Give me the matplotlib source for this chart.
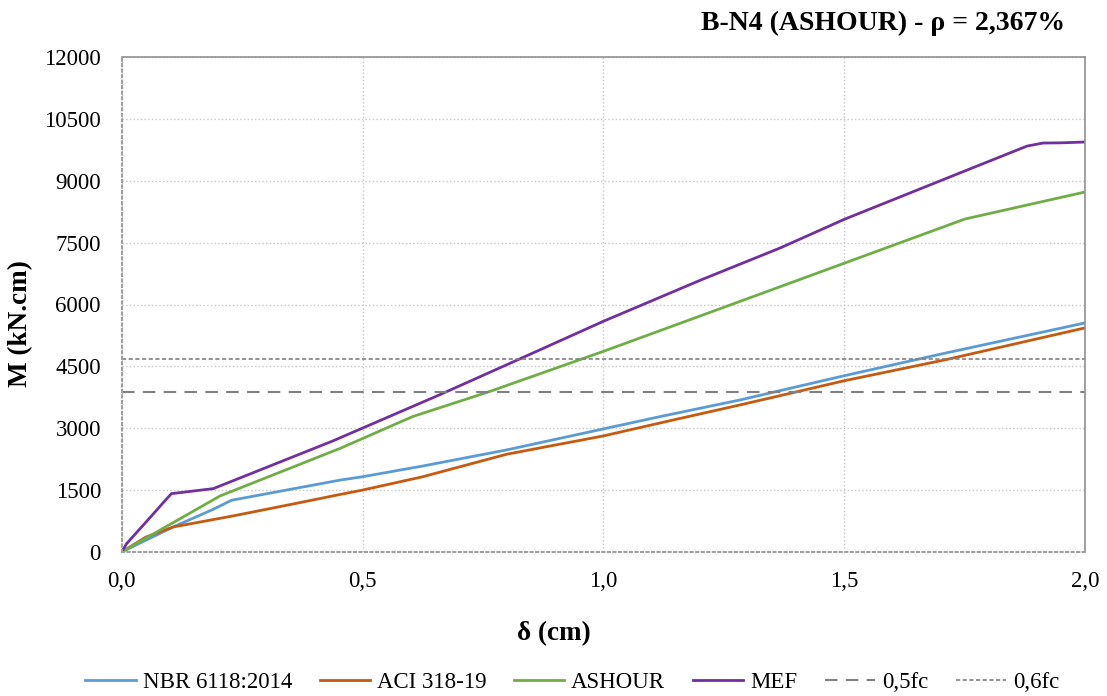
import matplotlib.pyplot as plt
import numpy as np

plt.rcParams['font.family'] = ['Liberation Serif', 'DejaVu Serif']

# delta (cm), M (kN.cm)
nbr_x = [0, 0.107, 0.19, 0.228, 0.454, 0.5, 0.625, 0.799, 1.0, 1.118, 1.285, 1.5, 1.711, 2.0]
nbr_y = [0, 606, 1034, 1253, 1743, 1823, 2083, 2473, 2983, 3282, 3688, 4272, 4823, 5553]

aci_x = [0, 0.05, 0.107, 0.231, 0.356, 0.454, 0.5, 0.625, 0.799, 1.0, 1.146, 1.285, 1.5, 1.711, 2.0]
aci_y = [0, 360, 606, 873, 1163, 1395, 1500, 1823, 2368, 2813, 3202, 3567, 4150, 4661, 5432]

ash_x = [0, 0.204, 0.454, 0.604, 0.764, 1.0, 1.285, 1.751, 2.0]
ash_y = [0, 1357, 2514, 3282, 3890, 4863, 6080, 8073, 8727]

mef_x = [0, 0.01, 0.06, 0.085, 0.103, 0.19, 0.438, 0.66, 0.826, 1.0, 1.205, 1.367,
         1.502, 1.74, 1.88, 1.913, 1.95, 2.0]
mef_y = [0, 200, 850, 1180, 1413, 1535, 2690, 3810, 4678, 5592, 6606, 7370,
         8073, 9188, 9842, 9915, 9920, 9940]

fc05 = 3890
fc06 = 4670

fig = plt.figure(figsize=(11.07, 6.96), dpi=100)
ax = fig.add_axes([0.110, 0.207, 0.870, 0.711])

ax.plot(nbr_x, nbr_y, color='#5B9BD5', lw=2, label='NBR 6118:2014')
ax.plot(aci_x, aci_y, color='#C55A11', lw=2, label='ACI 318-19')
ax.plot(ash_x, ash_y, color='#70AD47', lw=2, label='ASHOUR')
ax.plot(mef_x, mef_y, color='#7030A0', lw=2, label='MEF')
ax.axhline(fc05, color='#808080', lw=1.5, linestyle=(0, (6, 4)), label='0,5fc')
ax.axhline(fc06, color='#808080', lw=1.2, linestyle=(0, (2.5, 1.5)), label='0,6fc')

ax.set_xlim(0, 2.0)
ax.set_ylim(0, 12000)
ax.set_xticks(np.arange(0, 2.01, 0.5))
ax.set_xticklabels(['0,0', '0,5', '1,0', '1,5', '2,0'])
ax.set_yticks(np.arange(0, 12001, 1500))
ax.tick_params(length=0, labelsize=16.5)
ax.tick_params(axis='y', pad=15)
ax.tick_params(axis='x', pad=14)
ax.grid(True, color='#C8C8C8', linestyle=':', lw=1)

for s in ['top', 'right']:
    ax.spines[s].set_color('#909090')
    ax.spines[s].set_linewidth(1.2)
for s in ['left', 'bottom']:
    ax.spines[s].set_color('#A0A0A0')
    ax.spines[s].set_linestyle(':')
    ax.spines[s].set_linewidth(1.5)

ax.set_xlabel('δ (cm)', fontsize=19.5, fontweight='bold')
ax.set_ylabel('M (kN.cm)', fontsize=19.5, fontweight='bold')
ax.xaxis.set_label_coords(0.449, -0.14)
ax.yaxis.set_label_coords(-0.092, 0.462)

fig.text(0.962, 0.967, 'B-N4 (ASHOUR) - ρ = 2,367%', ha='right', va='center',
         fontsize=20, fontweight='bold')

fig.legend(loc='center', bbox_to_anchor=(0.517, 0.02), ncol=6, frameon=False,
           fontsize=16.5, handlelength=2.2, columnspacing=1.2, handletextpad=0.3)

fig.savefig('out.png', dpi=100)
